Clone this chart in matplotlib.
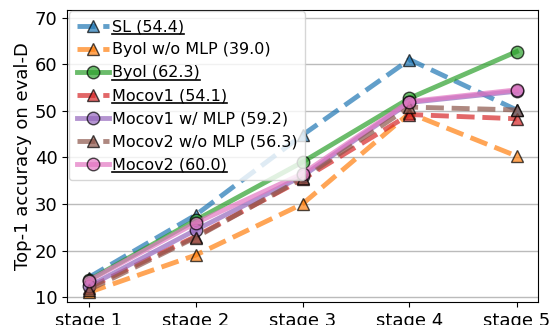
import numpy as np
import matplotlib
matplotlib.use("Agg")
import matplotlib.pyplot as plt
from matplotlib.lines import Line2D

stages = ["stage 1", "stage 2", "stage 3", "stage 4", "stage 5"]

sl = [14.2, 27.6, 44.8, 61.0, 50.2]
byol_wo_mlp = [11.0, 19.0, 30.0, 49.5, 40.3]
byol = [13.6, 26.5, 39.0, 52.7, 62.7]
mocov1 = [12.0, 23.0, 35.3, 49.2, 48.3]
mocov1_mlp = [12.3, 24.4, 36.0, 51.8, 54.2]
mocov2_wo_mlp = [11.5, 22.8, 35.5, 50.8, 50.2]
mocov2 = [13.5, 25.9, 36.5, 52.0, 54.5]

labels = ["SL (54.4)", "Byol w/o MLP (39.0)", "Byol (62.3)", "Mocov1 (54.1)",
          "Mocov1 w/ MLP (59.2)", "Mocov2 w/o MLP (56.3)", "Mocov2 (60.0)"]
underlined = [True, False, True, True, False, False, True]
series = [sl, byol_wo_mlp, byol, mocov1, mocov1_mlp, mocov2_wo_mlp, mocov2]
colors = ["tab:blue", "tab:orange", "tab:green", "tab:red",
          "tab:purple", "tab:brown", "tab:pink"]
styles = ["--", "--", "-", "--", "-", "--", "-"]
markers = ["^", "^", "o", "^", "o", "^", "o"]

fig, ax = plt.subplots(figsize=(5.5, 3.25), dpi=100)
x = np.arange(len(stages))
for y, lab, c, ls, m in zip(series, labels, colors, styles, markers):
    ax.plot(x, y, ls, color=c, marker=m, lw=3.5, ms=9, alpha=0.7,
            markeredgecolor="black", markeredgewidth=1, label=lab)

ax.set_xticks(x)
ax.set_xticklabels(stages, fontsize=13)
ax.set_yticks([10, 20, 30, 40, 50, 60, 70])
ax.tick_params(axis="y", labelsize=13)
ax.set_ylim(8.9, 71.7)
ax.set_ylabel("Top-1 accuracy on eval-D", fontsize=13, labelpad=2)
ax.yaxis.grid(True, color="#bbbbbb", lw=1)
ax.set_axisbelow(True)

leg = ax.legend(loc="upper left", fontsize=11.5, borderaxespad=0.1,
                handlelength=2.0, labelspacing=0.5, handletextpad=0.2,
                borderpad=0.5)

plt.subplots_adjust(left=0.122, right=0.978, top=0.97, bottom=0.07)

fig.canvas.draw()
for t, u in zip(leg.get_texts(), underlined):
    if u:
        bb = t.get_window_extent()
        fig.add_artist(Line2D([bb.x0, bb.x1], [bb.y0 + 0.5, bb.y0 + 0.5],
                              transform=None, color="black", lw=1.2))

fig.savefig("out.png", dpi=100)
